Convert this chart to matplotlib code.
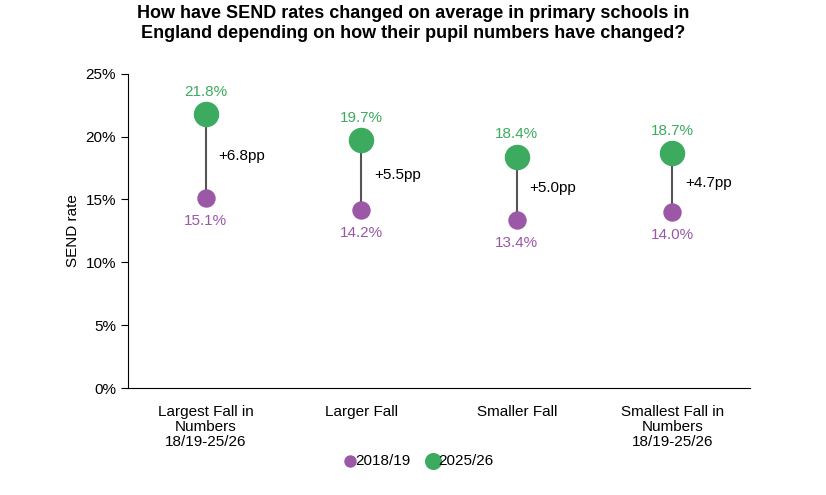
import numpy as np
import matplotlib.pyplot as plt

plt.rcParams['font.family'] = ['Liberation Sans', 'DejaVu Sans']

# data
categories = ['Largest Fall in\nNumbers\n18/19-25/26', 'Larger Fall', 'Smaller Fall',
              'Smallest Fall in\nNumbers\n18/19-25/26']
rate_1819 = [15.1, 14.2, 13.4, 14.0]
rate_2526 = [21.8, 19.7, 18.4, 18.7]
change_pp = [6.8, 5.5, 5.0, 4.7]

GREEN = '#3cab5f'
PURPLE = '#9a58a6'

fig = plt.figure(figsize=(8.26, 4.95), dpi=100)
ax = fig.add_axes([0.155, 0.216, 0.753, 0.635])

x = np.arange(len(categories))
for i in x:
    ax.plot([i, i], [rate_1819[i], rate_2526[i]], color='#555555', lw=1.5, zorder=1)
ax.scatter(x, rate_1819, s=150, color=PURPLE, zorder=3, label='2018/19')
ax.scatter(x, rate_2526, s=300, color=GREEN, zorder=3, label='2025/26')

for i in x:
    ax.annotate(f'{rate_2526[i]:.1f}%', (i, rate_2526[i]), xytext=(0, 11), textcoords='offset points',
                ha='center', va='bottom', color=GREEN, fontsize=11)
    ax.annotate(f'{rate_1819[i]:.1f}%', (i, rate_1819[i]), xytext=(0, -11.5), textcoords='offset points',
                ha='center', va='top', color=PURPLE, fontsize=11)
    mid = (rate_1819[i] + rate_2526[i]) / 2
    ax.annotate(f'+{change_pp[i]:.1f}pp', (i, mid), xytext=(9, 0), textcoords='offset points',
                ha='left', va='center', color='black', fontsize=11)

ax.set_xlim(-0.5, 3.5)
ax.set_ylim(0, 25)
ax.set_yticks(range(0, 26, 5))
ax.set_yticklabels([f'{v}%' for v in range(0, 26, 5)], fontsize=11)
ax.set_xticks(x)
ax.set_xticklabels(categories, fontsize=11, va='top', linespacing=1.1)
ax.tick_params(axis='x', length=0, pad=12)
ax.tick_params(axis='y', length=5, direction='out')
ax.spines['top'].set_visible(False)
ax.spines['right'].set_visible(False)
ax.set_ylabel('SEND rate', fontsize=11, labelpad=4)

ax.legend(loc='upper center', bbox_to_anchor=(0.46, -0.165), ncol=2, frameon=False, fontsize=11,
          handletextpad=-0.65, columnspacing=0.5, markerscale=0.65)

fig.suptitle('How have SEND rates changed on average in primary schools in\n'
             'England depending on how their pupil numbers have changed?',
             fontsize=13, fontweight='bold', y=0.99)

fig.savefig('out.png', dpi=100)
